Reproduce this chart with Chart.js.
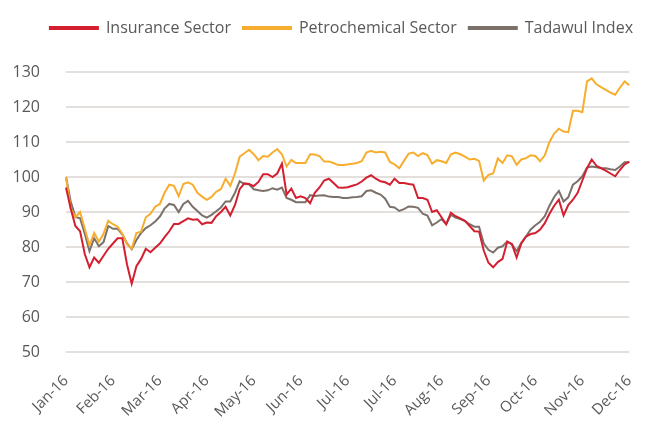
<!DOCTYPE html>
<html>
<head>
<meta charset="utf-8">
<script src="https://cdn.jsdelivr.net/npm/chart.js@4.4.0/dist/chart.umd.min.js"></script>
<style>
    html, body { margin: 0; padding: 0; background: #fff; }
</style>
</head>
<body>
<canvas id="sector-chart" width="654" height="426"></canvas>
<script>
const monthLabels = ['Jan-16', 'Feb-16', 'Mar-16', 'Apr-16', 'May-16', 'Jun-16', 'Jul-16',
    'Jul-16', 'Aug-16', 'Sep-16', 'Oct-16', 'Nov-16', 'Dec-16'];
const pointsPerMonth = 10;

const insurance = [
    97, 91, 86, 84.5, 78, 74.2, 77, 75.5, 77.5, 79.5,
    81, 82.5, 82.5, 75, 69.5, 74.5, 76.6, 79.5, 78.5, 79.8,
    81, 82.8, 84.5, 86.6, 86.6, 87.4, 88.2, 87.8, 87.9, 86.5,
    87, 86.9, 88.8, 90, 91.5, 89, 92, 96.5, 98.2, 98,
    97.4, 98.6, 100.8, 100.8, 100, 101, 103.8, 95, 96.7, 94,
    94.5, 94, 92.5, 95.5, 97, 99, 99.5, 98.3, 97, 96.9,
    97.1, 97.5, 97.9, 98.7, 99.8, 100.5, 99.5, 98.8, 98.5, 97.8,
    99.5, 98.3, 98.3, 98, 97.8, 94, 94, 93.5, 90, 90.5,
    88.5, 86.5, 89.8, 88.8, 88.2, 87.5, 86, 84.5, 84.4, 79,
    75.5, 74.2, 75.7, 76.6, 81.5, 80.8, 77, 81, 83, 83.7,
    84, 85, 86.8, 89.5, 91.8, 93.5, 89, 92, 93.5, 95.5,
    99, 102.5, 105, 103.2, 102.5, 101.8, 101, 100.2, 102, 103.6, 104.4
];

const petrochemical = [
    100, 91, 88.5, 90, 85.2, 80.5, 84, 81.5, 83.8, 87.5,
    86.5, 85.8, 83.8, 80.8, 79.5, 84, 84.4, 88.5, 89.5, 91.5,
    92.3, 95.5, 97.8, 97.5, 94.5, 98, 98.5, 97.8, 95.5, 94.4,
    93.5, 94.3, 95.8, 96.5, 99.5, 97.5, 101, 105.8, 106.8, 107.8,
    106.5, 104.8, 106, 105.8, 107, 108, 106.5, 103, 104.9, 104,
    104, 104, 106.5, 106.4, 106, 104.4, 104.4, 104, 103.4, 103.4,
    103.6, 103.8, 104, 104.5, 107, 107.5, 107, 107.2, 107, 104.3,
    103.6, 102.5, 104.6, 106.7, 107, 106, 106.8, 106.3, 103.8, 104.8,
    104.5, 104, 106.5, 107, 106.5, 105.8, 105, 105.2, 104.6, 99,
    100.6, 101, 105.3, 104, 106.2, 105.9, 103.5, 105, 105.4, 106.2,
    106, 104.5, 106.2, 110, 112.4, 113.8, 113, 112.8, 118.9, 118.9,
    118.5, 127.3, 128.2, 126.5, 125.7, 124.9, 124.1, 123.5, 125.5, 127.3, 126.2
];

const tadawul = [
    100, 93, 88.6, 88.2, 83.8, 78.8, 82.5, 80.2, 81.4, 86,
    85.2, 85.2, 83.6, 81, 79.4, 82, 84, 85.4, 86.2, 87.3,
    88.7, 91, 92.3, 92, 90, 92.3, 93.2, 91.5, 90.3, 89,
    88.4, 89.2, 90.2, 91.3, 93, 93, 95.5, 98.8, 98, 97.9,
    96.5, 96.2, 96, 96.2, 96.8, 96.4, 97, 94, 93.5, 92.8,
    92.8, 92.8, 94.8, 94.6, 94.7, 94.8, 94.4, 94.3, 94.3, 94,
    94, 94.2, 94.3, 94.5, 96, 96.2, 95.5, 95, 93.8, 91.5,
    91.3, 90.3, 90.8, 91.6, 91.5, 91.2, 89.5, 89, 86.2, 87,
    88, 86.5, 89.2, 88.4, 88, 87.4, 86.5, 85.8, 85.8, 81,
    79.2, 78.4, 79.8, 80.2, 81.6, 80.8, 78.8, 81.2, 83, 85,
    86.2, 87.2, 88.8, 91.8, 94.3, 96, 93, 94.2, 97.8, 98.8,
    100.2, 102.7, 103, 102.8, 102.6, 102.5, 102.2, 102, 103, 104.2, 104.2
];

// one category per point, month name only on every 10th
const axisLabels = insurance.map((v, i) =>
    i % pointsPerMonth === 0 ? monthLabels[i / pointsPerMonth] : '');

Chart.defaults.font.family = "'Open Sans', sans-serif";
Chart.defaults.color = '#595959';

// push the plot down below the legend
const legendSpacer = {
    id: 'legendSpacer',
    beforeInit(chart) {
        const fit = chart.legend.fit;
        chart.legend.fit = function () {
            fit.bind(chart.legend)();
            this.height += 26;
        };
    }
};

const lineStyle = {
    borderWidth: 2,
    pointRadius: 0,
    tension: 0,
    fill: false
};

const sectorChart = new Chart(document.getElementById('sector-chart'), {
    type: 'line',
    data: {
        labels: axisLabels,
        datasets: [
            { label: 'Insurance Sector', data: insurance, borderColor: '#d31f30', backgroundColor: '#d31f30', ...lineStyle },
            { label: 'Petrochemical Sector', data: petrochemical, borderColor: '#f7ae2e', backgroundColor: '#f7ae2e', ...lineStyle },
            { label: 'Tadawul Index', data: tadawul, borderColor: '#7b716a', backgroundColor: '#7b716a', ...lineStyle }
        ]
    },
    plugins: [legendSpacer],
    options: {
        responsive: false,
        animation: false,
        layout: {
            padding: { top: 8, left: 6, right: 9, bottom: 0 }
        },
        plugins: {
            legend: {
                align: 'end',
                labels: {
                    boxWidth: 48,
                    boxHeight: 2,
                    padding: 12,
                    font: { size: 16 },
                    color: '#595959'
                }
            },
            tooltip: { enabled: false }
        },
        scales: {
            x: {
                grid: { display: false },
                border: { display: false },
                ticks: {
                    autoSkip: false,
                    minRotation: 45,
                    maxRotation: 45,
                    padding: 12,
                    font: { size: 15 },
                    color: '#595959'
                },
                afterFit: scale => { scale.height = 74; }
            },
            y: {
                min: 50,
                max: 130,
                border: { display: false },
                grid: {
                    color: '#e2dfdc',
                    lineWidth: 2,
                    drawTicks: false
                },
                ticks: {
                    stepSize: 10,
                    padding: 26,
                    font: { size: 16 },
                    color: '#595959'
                },
                afterFit: scale => { scale.width = 60; }
            }
        }
    }
});
</script>
</body>
</html>
